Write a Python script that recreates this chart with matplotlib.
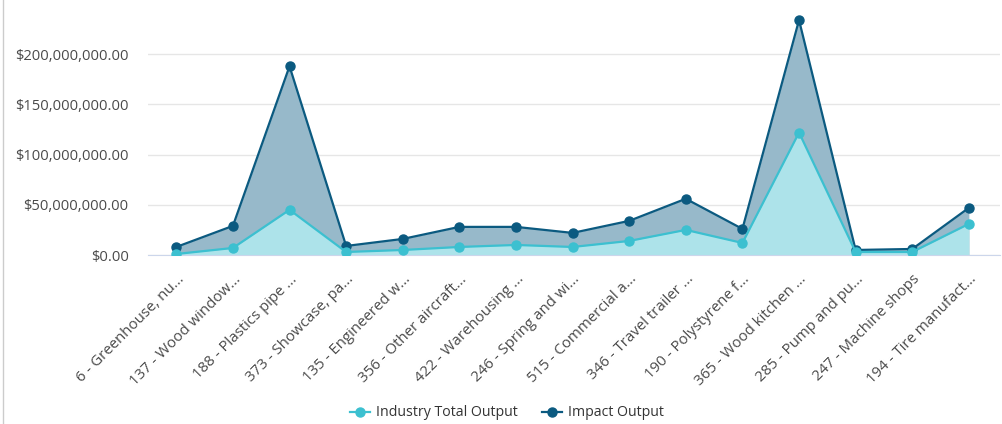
import matplotlib
matplotlib.use("Agg")
import matplotlib.pyplot as plt
from matplotlib.lines import Line2D
from matplotlib.ticker import FuncFormatter

plt.rcParams["font.family"] = ["Open Sans", "DejaVu Sans"]

categories = [
    "6 - Greenhouse, nu...", "137 - Wood window...", "188 - Plastics pipe ...",
    "373 - Showcase, pa...", "135 - Engineered w...", "356 - Other aircraft...",
    "422 - Warehousing ...", "246 - Spring and wi...", "515 - Commercial a...",
    "346 - Travel trailer ...", "190 - Polystyrene f...", "365 - Wood kitchen ...",
    "285 - Pump and pu...", "247 - Machine shops", "194 - Tire manufact...",
]
industry_output = [1e6, 7e6, 45e6, 3e6, 5e6, 8e6, 10e6, 8e6, 14e6, 25e6, 12e6, 122e6, 3e6, 3e6, 31e6]
impact_output = [8e6, 29e6, 188e6, 9e6, 16e6, 28e6, 28e6, 22e6, 34e6, 56e6, 26e6, 234e6, 5e6, 6e6, 47e6]
y_ticks = [0, 50e6, 100e6, 150e6, 200e6]

IND_COLOR = "#3cc0d0"
IMP_COLOR = "#0b5a80"

fig = plt.figure(figsize=(10.03, 4.24), dpi=100)
ax = fig.add_axes([148 / 1003, 1 - 255 / 424, 852 / 1003, 251 / 424])

x = list(range(len(categories)))
ax.fill_between(x, impact_output, 0, color="#97b9ca", lw=0, zorder=1)
ax.fill_between(x, industry_output, 0, color="#ade3ea", lw=0, zorder=2)
ax.plot(x, impact_output, color=IMP_COLOR, lw=1.6, marker="o", ms=6.5, zorder=4)
ax.plot(x, industry_output, color=IND_COLOR, lw=1.6, marker="o", ms=6.5, zorder=5)

ax.set_xlim(-0.5, 14.55)
ax.set_ylim(0, 250e6)
ax.set_yticks(y_ticks)
ax.yaxis.set_major_formatter(FuncFormatter(lambda v, p: f"${v:,.2f}"))
ax.grid(axis="y", color="#e6e6e6", lw=1)
ax.set_axisbelow(True)
for s in ["top", "right", "left"]:
    ax.spines[s].set_visible(False)
ax.spines["bottom"].set_color("#ccd6eb")
ax.tick_params(axis="y", length=0, pad=14, labelsize=10.6, labelcolor="#4a4a4a")
ax.tick_params(axis="x", length=0, pad=12, labelsize=10.8, labelcolor="#4a4a4a")
ax.set_xticks(x)
ax.set_xticklabels(categories, rotation=45, ha="right", rotation_mode="anchor")

# left border line
fig.add_artist(Line2D([3 / 1003, 3 / 1003], [0, 1], color="#cccccc", lw=1))

handles = [
    Line2D([], [], color=IND_COLOR, lw=1.6, marker="o", ms=6.5),
    Line2D([], [], color=IMP_COLOR, lw=1.6, marker="o", ms=6.5),
]
fig.legend(handles, ["Industry Total Output", "Impact Output"], loc="center",
           bbox_to_anchor=(507 / 1003, 1 - 413 / 424), ncol=2, frameon=False,
           fontsize=10.2, labelcolor="#333333", handlelength=1.4, columnspacing=1.76,
           handletextpad=0.4)

fig.savefig("out.png", dpi=100)
